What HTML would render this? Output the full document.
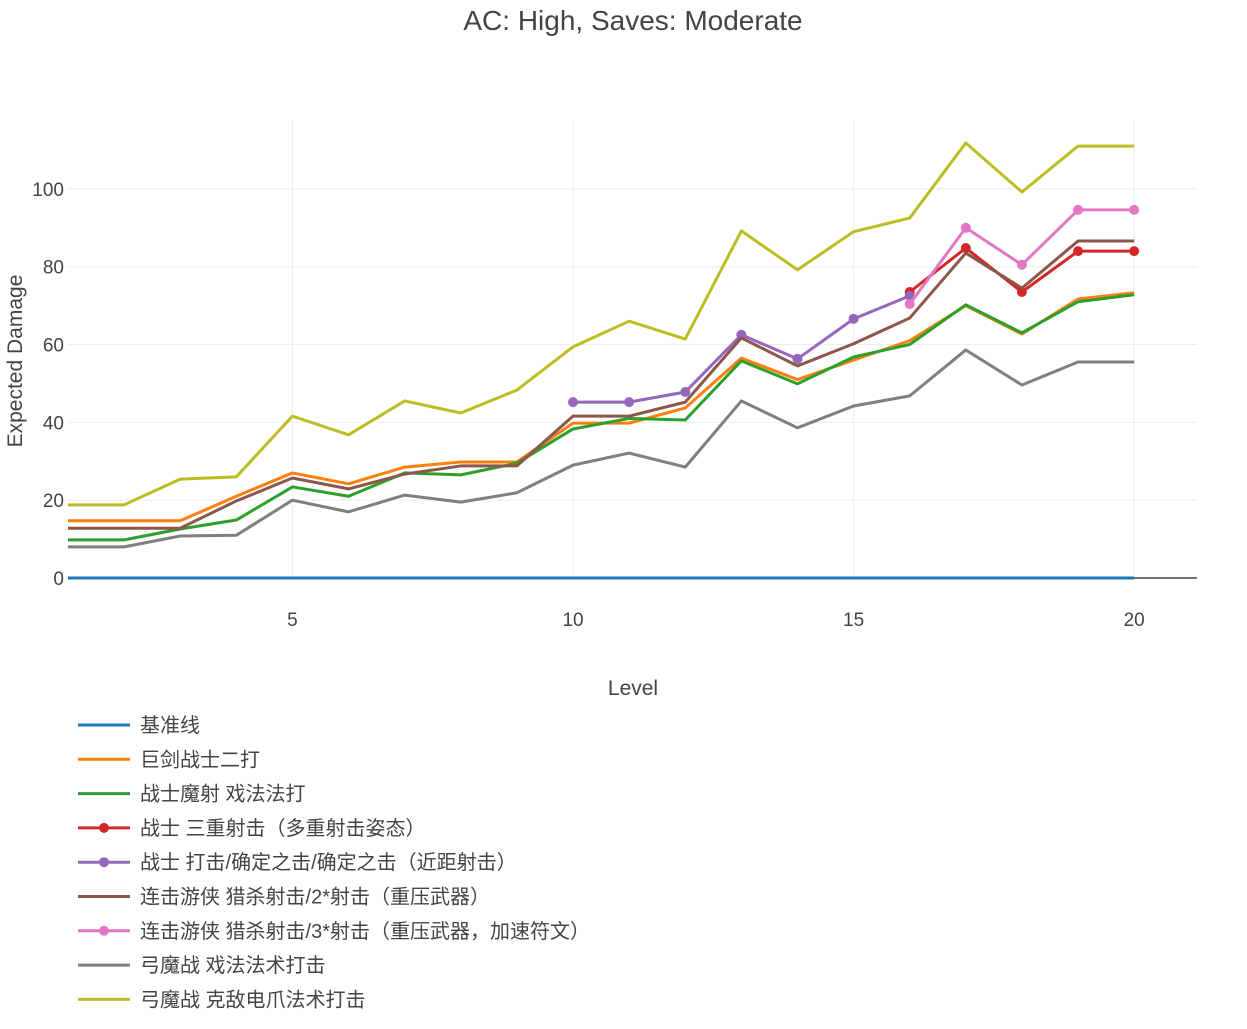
<!DOCTYPE html>
<html><head><meta charset="utf-8"><style>
body{margin:0;background:#fff;font-family:"Liberation Sans","Noto Sans CJK SC",sans-serif}
svg text{font-family:"Liberation Sans","Noto Sans CJK SC",sans-serif;fill:#444}
</style></head><body>
<svg id="c" width="1247" height="1024">
<text x="633" y="30" font-size="28" text-anchor="middle">AC: High, Saves: Moderate</text>
<text x="633" y="695" font-size="21" text-anchor="middle">Level</text>
<text transform="translate(22,361) rotate(-90)" font-size="21" text-anchor="middle">Expected Damage</text>
<g id="grid"></g><g id="series"></g><g id="legend"></g>
</svg>
<script>
const levels=[1,2,3,4,5,6,7,8,9,10,11,12,13,14,15,16,17,18,19,20];
const xTicks=[5,10,15,20];
const yTicks=[0,20,40,60,80,100];
const names=["基准线","巨剑战士二打","战士魔射 戏法法打","战士  三重射击（多重射击姿态）","战士 打击/确定之击/确定之击（近距射击）","连击游侠 猎杀射击/2*射击（重压武器）","连击游侠 猎杀射击/3*射击（重压武器，加速符文）","弓魔战 戏法法术打击","弓魔战 克敌电爪法术打击"];
const colors=["#1f77b4","#ff7f0e","#2ca02c","#d62728","#9467bd","#8c564b","#e377c2","#7f7f7f","#bcbd22"];
const markers=[false,false,false,true,true,false,true,false,false];
const sBase=[0,0,0,0,0,0,0,0,0,0,0,0,0,0,0,0,0,0,0,0];
const sGreatsword=[14.7,14.7,14.7,21,27,24.2,28.5,29.8,29.8,39.8,39.8,43.7,56.5,51,56,61,70,62.7,71.7,73.3];
const sMagus=[9.8,9.8,12.6,14.9,23.4,21,27,26.5,29.5,38.3,41,40.6,55.8,49.9,56.8,60,70.2,63,71,72.8];
const sTriple=[null,null,null,null,null,null,null,null,null,null,null,null,null,null,null,73.5,84.8,73.5,84,84];
const sStrike=[null,null,null,null,null,null,null,null,null,45.2,45.2,47.8,62.5,56.3,66.6,72.5,null,null,null,null];
const sRanger2=[12.8,12.8,12.8,19.8,25.7,22.9,26.7,28.8,28.8,41.6,41.6,45.2,61.7,54.5,60.2,66.8,83.5,74.5,86.6,86.6];
const sRanger3=[null,null,null,null,null,null,null,null,null,null,null,null,null,null,null,70.4,90,80.5,94.6,94.6];
const sArcher1=[8,8,10.8,11,20,17,21.3,19.5,21.9,29,32.1,28.5,45.5,38.6,44.2,46.8,58.6,49.6,55.5,55.5];
const sArcher2=[18.8,18.8,25.4,26,41.6,36.8,45.5,42.4,48.3,59.4,66,61.4,89.2,79.2,89,92.5,111.8,99.2,111,111];
const series=[sBase,sGreatsword,sMagus,sTriple,sStrike,sRanger2,sRanger3,sArcher1,sArcher2];
const L=68,R=1197,T=120,B=578,xMin=1,xMax=21.12,yMin=0,yMax=117.7;
const X=v=>L+(v-xMin)/(xMax-xMin)*(R-L);
const Y=v=>B-(v-yMin)/(yMax-yMin)*(B-T);
const NS="http://www.w3.org/2000/svg";
function mk(t,a,p){const e=document.createElementNS(NS,t);for(const k in a)e.setAttribute(k,a[k]);p.appendChild(e);return e;}
const g=document.getElementById('grid');
xTicks.forEach(t=>{
 const l=mk('line',{x1:X(t),x2:X(t),y1:T,y2:B,stroke:'#eee','stroke-width':1},g);
 
 
 const tx=mk('text',{x:X(t),y:626,'font-size':19,'text-anchor':'middle'},g);tx.textContent=t;
 
 
});
yTicks.forEach(t=>{
 if(t>0){const l=mk('line',{x1:L,x2:R,y1:Y(t),y2:Y(t),stroke:'#eee','stroke-width':1},g);
 
 }
 const tx=mk('text',{x:64,y:Y(t)+7,'font-size':19,'text-anchor':'end'},g);tx.textContent=t;
 
 
});
const zl=mk('line',{x1:L,x2:R,y1:Y(0),y2:Y(0),stroke:'#444','stroke-width':1.5},g);


const sg=document.getElementById('series');
series.forEach((s,i)=>{
 const grp=mk('g',{},sg);
 
 
 let pts=[];
 s.forEach((v,j)=>{if(v!==null)pts.push(X(levels[j])+','+Y(v));});
 const pl=mk('polyline',{points:pts.join(' '),fill:'none',stroke:colors[i],'stroke-width':3,'stroke-linejoin':'round'},grp);
 
 
 if(markers[i])s.forEach((v,j)=>{if(v===null)return;
  const c=mk('circle',{cx:X(levels[j]),cy:Y(v),r:5,fill:colors[i]},grp);
  
  
 });
});
const lg=document.getElementById('legend');
names.forEach((n,i)=>{
 const y=725+i*34.3;
 const e=mk('g',{},lg);
 
 
 mk('line',{x1:78,x2:130,y1:y,y2:y,stroke:colors[i],'stroke-width':3},e);
 if(markers[i])mk('circle',{cx:104,cy:y,r:5,fill:colors[i]},e);
 const t=mk('text',{x:140,y:y+7,'font-size':20},e);t.textContent=n;
});
</script>
</body></html>
